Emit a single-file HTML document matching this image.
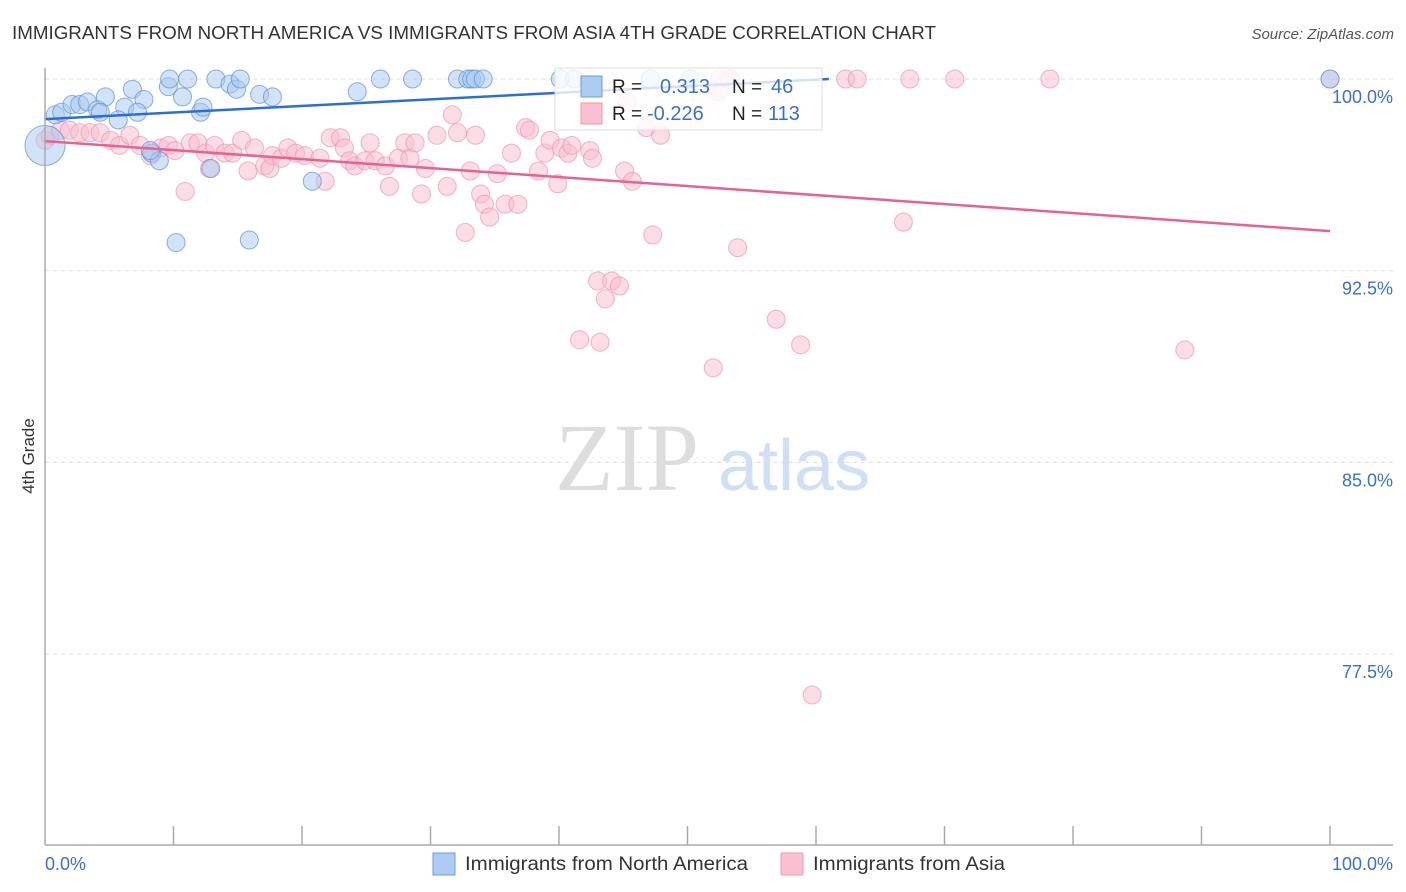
<!DOCTYPE html>
<html><head><meta charset="utf-8">
<style>
body{margin:0;background:#fff;font-family:"Liberation Sans",sans-serif;}
svg{display:block}
</style></head>
<body>
<svg id="chart" width="1406" height="892" viewBox="0 0 1406 892" xmlns="http://www.w3.org/2000/svg">
<text x="12" y="39" font-size="18" fill="#333" textLength="924" lengthAdjust="spacingAndGlyphs">IMMIGRANTS FROM NORTH AMERICA VS IMMIGRANTS FROM ASIA 4TH GRADE CORRELATION CHART</text>
<text x="1394" y="39" font-size="15" fill="#555" text-anchor="end" font-style="italic">Source: ZipAtlas.com</text>
<g id="grid"></g>
<text x="555" y="490" font-size="96" fill="#ddd" font-family="Liberation Serif,serif">ZIP</text>
<text x="718" y="490" font-size="72" fill="#d0e0f4">atlas</text>
<g id="pts"></g>
<g id="lines"></g>
<line x1="45" y1="68" x2="45" y2="845" stroke="#aaa" stroke-width="1.5"/>
<line x1="45" y1="845" x2="1393" y2="845" stroke="#aaa" stroke-width="1.5"/>
<g id="ticks"></g>
<text transform="translate(34,456) rotate(-90)" font-size="17" fill="#333" text-anchor="middle">4th Grade</text>
<text x="45" y="870" font-size="18" fill="#3a6fd0">0.0%</text>
<text x="1393" y="870" font-size="18" fill="#3a6fd0" text-anchor="end">100.0%</text>
<g>
<rect x="555" y="68" width="267" height="62" fill="#fff" fill-opacity="0.8" stroke="#ddd"/>
<rect x="581" y="76" width="21" height="21" fill="#aecbf2" stroke="#6a9be0"/>
<rect x="581" y="103" width="21" height="21" fill="#f8c0d0" stroke="#ee9ab2"/>
<text x="612" y="93" font-size="19" fill="#222">R = </text><text x="660" y="93" font-size="20" fill="#3a6fd0">0.313</text>
<text x="732" y="93" font-size="19" fill="#222">N = </text><text x="771" y="93" font-size="20" fill="#3a6fd0">46</text>
<text x="612" y="120" font-size="19" fill="#222">R = </text><text x="647" y="120" font-size="20" fill="#3a6fd0">-0.226</text>
<text x="732" y="120" font-size="19" fill="#222">N = </text><text x="768" y="120" font-size="20" fill="#3a6fd0">113</text>
</g>
<g>
<rect x="433" y="853" width="22" height="22" fill="#aecbf2" stroke="#6a9be0"/>
<text x="465" y="870" font-size="19" fill="#333" textLength="283" lengthAdjust="spacingAndGlyphs">Immigrants from North America</text></g>
<g>
<rect x="781" y="853" width="22" height="22" fill="#f8c0d0" stroke="#ee9ab2"/>
<text x="813" y="870" font-size="19" fill="#333" textLength="192" lengthAdjust="spacingAndGlyphs">Immigrants from Asia</text></g>
</svg>
<script>
const yTicks=[100,92.5,85,77.5];
const yTickLabels=["100.0%","92.5%","85.0%","77.5%"];
const xTicks=[10,20,30,40,50,60,70,80,90,100];
const blueX=[0,0.8,1.3,2.1,2.7,3.3,4.1,4.7,6.2,6.8,7.7,7.2,5.7,9.6,9.7,10.7,11.1,12.1,12.3,13.3,14.4,14.9,15.2,16.7,17.7,8.3,8.9,10.2,12.9,15.9,20.8,24.3,26.1,28.6,32.1,32.9,33.2,33.5,34.1,40.1,41.2,47.1,50.2,100,4.3,8.2];
const blueY=[97.4,98.6,98.7,99.0,99.0,99.1,98.8,99.3,98.9,99.6,99.2,98.7,98.4,99.7,100,99.3,100,98.7,98.9,100,99.8,99.6,100,99.4,99.3,97.1,96.8,93.6,96.5,93.7,96.0,99.5,100,100,100,100,100,100,100,100,100,100,100,100,98.7,97.2];
const pinkX=[0,0.4,1.2,1.9,2.7,3.5,4.3,5.1,5.8,6.6,7.4,8.2,9.0,9.6,10.1,10.9,11.3,11.9,12.5,12.8,13.2,14.0,14.6,15.3,15.8,16.3,17.1,17.5,17.7,18.4,18.9,19.5,20.2,21.4,21.8,22.2,23.0,23.3,23.7,24.1,24.9,25.3,25.7,26.5,26.8,27.5,28.0,28.4,28.8,29.3,29.6,30.5,31.3,31.7,32.1,32.7,33.1,33.5,33.9,34.2,34.6,35.2,35.8,36.3,36.8,37.4,37.7,38.4,38.9,39.3,39.9,40.2,40.7,41.0,42.4,42.6,43.0,43.6,44.1,44.7,41.6,43.2,45.1,45.7,45.3,46.8,47.9,47.3,52.4,52.5,53.3,53.9,56.9,58.8,52.0,59.7,62.3,63.2,67.3,70.8,78.2,66.8,88.7,100];
const pinkY=[97.6,97.8,98.0,98.0,97.9,97.9,97.9,97.6,97.4,97.8,97.4,97.0,97.3,97.4,97.2,95.6,97.5,97.5,97.1,96.5,97.4,97.1,97.1,97.6,96.4,97.3,96.6,96.5,97.0,96.9,97.3,97.1,97.0,96.9,96.0,97.7,97.7,97.3,96.8,96.6,96.8,97.5,96.8,96.6,95.8,96.9,97.5,96.9,97.5,95.5,96.5,97.8,95.8,98.6,97.9,94.0,96.4,97.8,95.5,95.1,94.6,96.3,95.1,97.1,95.1,98.1,98.0,96.4,97.1,97.6,95.9,97.3,97.1,97.4,97.2,96.9,92.1,91.4,92.1,91.9,89.8,89.7,96.4,96.0,99.1,98.1,97.8,93.9,99.5,100,100,93.4,90.6,89.6,88.7,75.9,100,100,100,100,100,94.4,89.4,100];
const blueTrend=[[0,98.43],[61,100]];
const pinkTrend=[[0,97.57],[100,94.05]];
const NS="http://www.w3.org/2000/svg";
const sx=v=>45+v*12.85;
const sy=v=>79+(100-v)/7.5*191.7;
function mk(t,a,p){const e=document.createElementNS(NS,t);for(const k in a)e.setAttribute(k,a[k]);p.appendChild(e);return e;}
const grid=document.getElementById('grid');
yTicks.forEach((v,i)=>{
 const l=mk('line',{x1:45,x2:1393,y1:sy(v),y2:sy(v),stroke:'#ddd','stroke-dasharray':'4,4'},grid);
 
 
 const t=mk('text',{x:1393,y:sy(v)+24,'font-size':18,fill:'#3a6fd0','text-anchor':'end'},grid);
 t.textContent=yTickLabels[i];
 
 
});
const ticks=document.getElementById('ticks');
xTicks.forEach(v=>{
 const l=mk('line',{x1:sx(v),x2:sx(v),y1:826,y2:845,stroke:'#aaa','stroke-width':1.5},ticks);
 
 
});
const pts=document.getElementById('pts');
pinkX.forEach((x,i)=>{
 const c=mk('circle',{cx:sx(x),cy:sy(pinkY[i]),r:9,fill:'#f8bccd','fill-opacity':0.5,stroke:'#ee94ae','stroke-opacity':0.7},pts);
 
 
});
blueX.forEach((x,i)=>{
 const c=mk('circle',{cx:sx(x),cy:sy(blueY[i]),r:i===0?20:9,fill:'#a8c8f0','fill-opacity':0.5,stroke:'#5b8fdc','stroke-opacity':0.7},pts);
 
 
});
const lines=document.getElementById('lines');
const bl=mk('line',{x1:sx(blueTrend[0][0]),y1:sy(blueTrend[0][1]),x2:sx(blueTrend[1][0]),y2:sy(blueTrend[1][1]),stroke:'#2a6fd6','stroke-width':2.5},lines);


const pl=mk('line',{x1:sx(pinkTrend[0][0]),y1:sy(pinkTrend[0][1]),x2:sx(pinkTrend[1][0]),y2:sy(pinkTrend[1][1]),stroke:'#e8628e','stroke-width':2.5},lines);


</script>
</body></html>
